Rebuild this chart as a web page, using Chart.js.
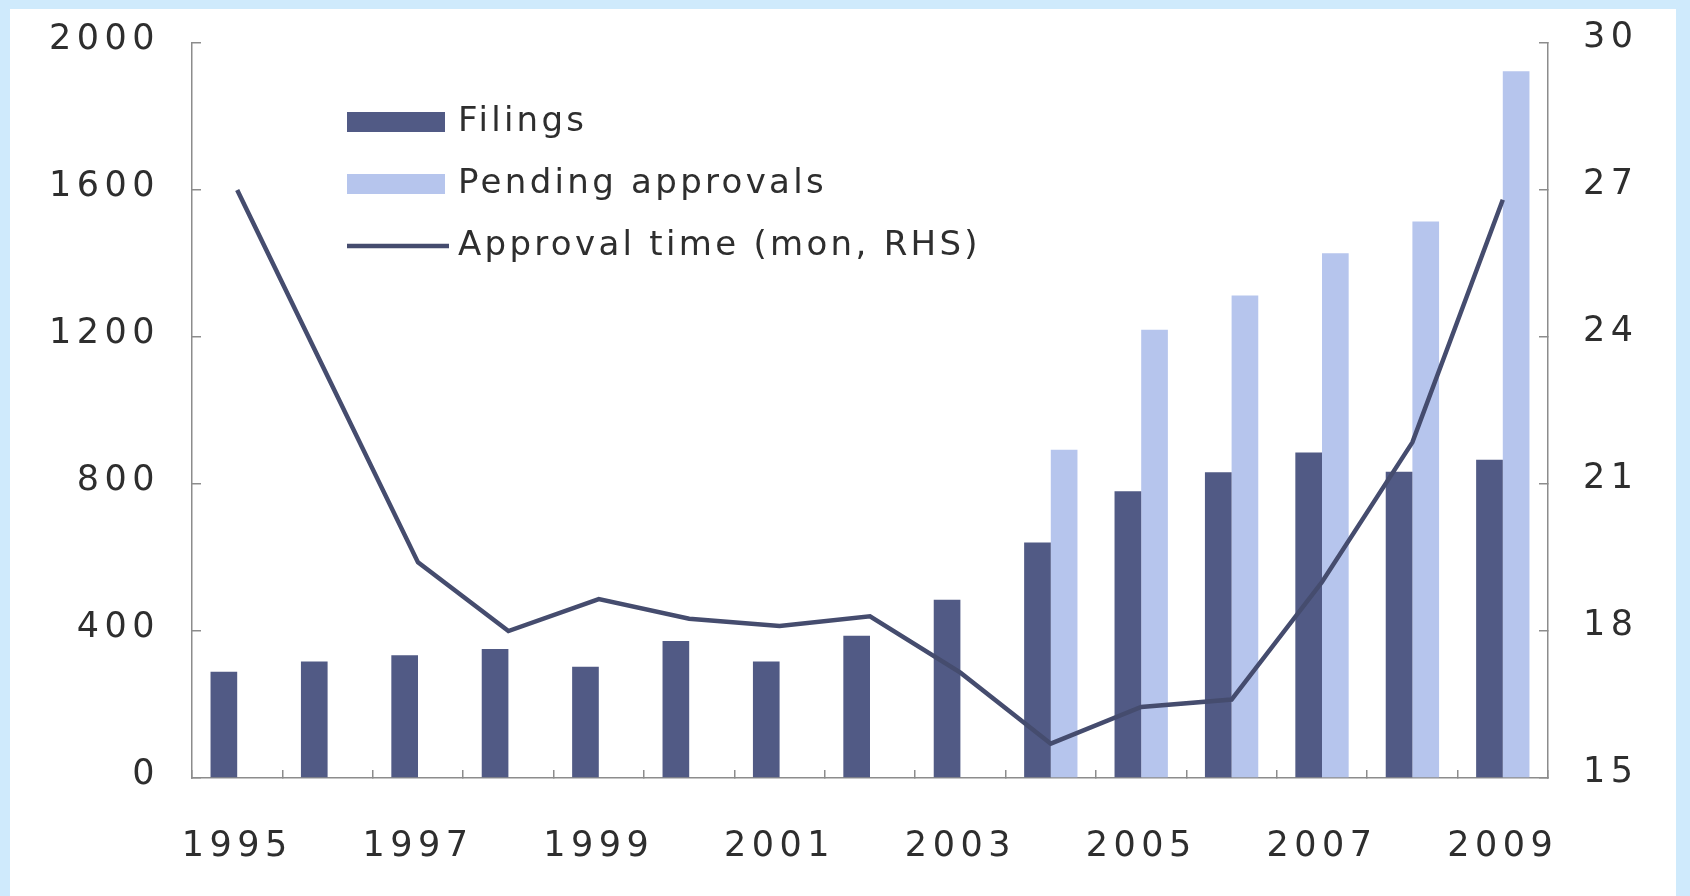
<!DOCTYPE html>
<html>
<head>
<meta charset="utf-8">
<title>Filings, pending approvals and approval time</title>
<script src="https://cdn.jsdelivr.net/npm/chart.js@4.4.1/dist/chart.umd.min.js"></script>
<style>
  html, body { margin: 0; padding: 0; }
  body { width: 1690px; height: 896px; background: #cfeafc; position: relative; overflow: hidden; }
  #panel { position: absolute; left: 10px; top: 9px; width: 1666px; height: 887px; background: #ffffff; }
  #chart { position: absolute; left: 0; top: 0; }
</style>
</head>
<body>
<div id="panel"></div>
<canvas id="chart" width="1690" height="896"></canvas>
<script>
// Years on the category axis
const years = ['1995','1996','1997','1998','1999','2000','2001','2002','2003','2004','2005','2006','2007','2008','2009'];
// Number of filings (left axis)
const filings = [289, 317, 334, 351, 303, 373, 317, 387, 485, 641, 780, 832, 886, 833, 866];
// Pending approvals (left axis), reported from 2004 onwards
const pending = [null, null, null, null, null, null, null, null, null, 893, 1220, 1313, 1428, 1514, 1923];
// Average approval time in months (right axis)
const approvalMonths = [27.0, 23.2, 19.4, 18.0, 18.65, 18.25, 18.1, 18.3, 17.15, 15.7, 16.45, 16.6, 19.0, 21.85, 26.8];
// Axis ticks
const leftTicks = [0, 400, 800, 1200, 1600, 2000];
const rightTicks = [15, 18, 21, 24, 27, 30];

const seriesNames = ['Filings', 'Pending approvals', 'Approval time (mon, RHS)'];
const colFilings = '#515a85';
const colPending = '#b6c5ed';
const colLine = '#454c6e';
const axisColor = '#8c8c8c';
const textColor = '#2e2e2e';
const fontFamily = '"DejaVu Sans", Arial, sans-serif';
const axisSpacing = '5.5px';
const legendSpacing = '3.3px';

Chart.defaults.color = textColor;
Chart.defaults.font.family = fontFamily;

// Wide print-style lettering for the axis labels
const spacing = {
  id: 'spacing',
  beforeUpdate(c) { c.ctx.letterSpacing = axisSpacing; },
  beforeLayout(c) { c.ctx.letterSpacing = axisSpacing; },
  beforeDraw(c) { c.ctx.letterSpacing = axisSpacing; }
};

// Stacked legend inside the plot, top left
const insideLegend = {
  id: 'insideLegend',
  afterDatasetsDraw(c) {
    const ctx = c.ctx;
    const ds = c.data.datasets;
    ctx.save();
    ctx.letterSpacing = legendSpacing;
    ctx.font = '34px ' + fontFamily;
    ctx.textAlign = 'left';
    ctx.textBaseline = 'alphabetic';
    const x0 = 347, rows = [122, 184, 246];
    ds.forEach((d, i) => {
      const y = rows[i];
      if (d.type === 'line') {
        ctx.strokeStyle = d.borderColor;
        ctx.lineWidth = 4.5;
        ctx.beginPath();
        ctx.moveTo(x0, y);
        ctx.lineTo(x0 + 102, y);
        ctx.stroke();
      } else {
        ctx.fillStyle = d.backgroundColor;
        ctx.fillRect(x0, y - 10, 98, 20);
      }
      ctx.fillStyle = textColor;
      ctx.fillText(d.label, 458, y + 9);
    });
    ctx.restore();
  }
};

const plainNumber = v => String(v);

new Chart(document.getElementById('chart'), {
  data: {
    labels: years,
    datasets: [
      { type: 'bar', label: seriesNames[0], data: filings, backgroundColor: colFilings, yAxisID: 'y', order: 2,
        categoryPercentage: 0.59, barPercentage: 1.0 },
      { type: 'bar', label: seriesNames[1], data: pending, backgroundColor: colPending, yAxisID: 'y', order: 2,
        categoryPercentage: 0.59, barPercentage: 1.0 },
      { type: 'line', label: seriesNames[2], data: approvalMonths, borderColor: colLine, borderWidth: 4.5,
        pointRadius: 0, tension: 0, fill: false, yAxisID: 'y1', order: 1, borderJoinStyle: 'miter' }
    ]
  },
  options: {
    responsive: false,
    animation: false,
    events: [],
    layout: { padding: { top: 43, left: 0, right: 0, bottom: 0 } },
    plugins: { legend: { display: false }, tooltip: { enabled: false } },
    scales: {
      x: {
        type: 'category',
        offset: true,
        border: { display: true, color: axisColor, width: 1.5 },
        grid: { offset: true, drawOnChartArea: false, drawTicks: true, tickLength: -8, color: axisColor, lineWidth: 1.5 },
        ticks: {
          autoSkip: false, maxRotation: 0, minRotation: 0, padding: 56,
          font: { size: 35 },
          callback: (v, i) => (i % 2 === 0 ? years[i] : '')
        },
        afterFit(s) { s.height = 118; }
      },
      y: {
        position: 'left',
        min: leftTicks[0], max: leftTicks[leftTicks.length - 1],
        border: { display: true, color: axisColor, width: 1.5 },
        grid: { drawOnChartArea: false, drawTicks: true, tickLength: -9, color: axisColor, lineWidth: 1.5 },
        afterBuildTicks(s) { s.ticks = leftTicks.map(v => ({ value: v })); },
        ticks: { padding: 41, labelOffset: -3, font: { size: 35 }, callback: plainNumber },
        afterFit(s) { s.width = 192; s.paddingTop = 0; s.paddingBottom = 0; }
      },
      y1: {
        position: 'right',
        min: rightTicks[0], max: rightTicks[rightTicks.length - 1],
        border: { display: true, color: axisColor, width: 1.5 },
        grid: { drawOnChartArea: false, drawTicks: true, tickLength: -9, color: axisColor, lineWidth: 1.5 },
        afterBuildTicks(s) { s.ticks = rightTicks.map(v => ({ value: v })); },
        ticks: { padding: 44, labelOffset: -5, font: { size: 35 }, callback: plainNumber },
        afterFit(s) { s.width = 142; s.paddingTop = 0; s.paddingBottom = 0; }
      }
    }
  },
  plugins: [spacing, insideLegend]
});
</script>
</body>
</html>
